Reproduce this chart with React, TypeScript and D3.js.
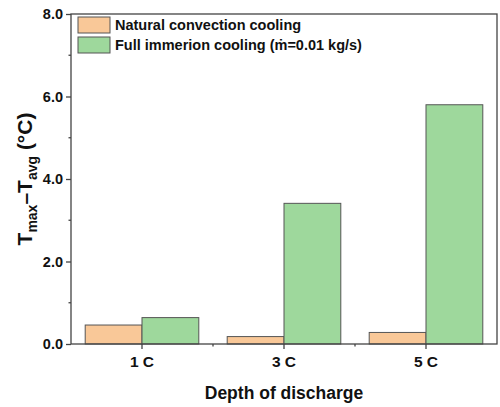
import React, { useRef, useEffect } from "react";
import * as d3 from "d3";

const categories = ["1 C", "3 C", "5 C"];
const naturalValues = [0.46, 0.18, 0.28];
const immersionValues = [0.64, 3.41, 5.8];
const seriesNames = ["Natural convection cooling", "Full immerion cooling (ṁ=0.01 kg/s)"];
const seriesColors = ["#F9C898", "#9ED89C"];
const yTicks = [0, 2, 4, 6, 8];
const yMinorTicks = [1, 3, 5, 7];

const App = () => {
  const svgRef = useRef<SVGSVGElement>(null);

  useEffect(() => {
    const svg = d3.select(svgRef.current);
    svg.selectAll("*").remove();

    const width = 500;
    const height = 407;
    const margin = { top: 14, right: 3, bottom: 63, left: 71 };
    const font = "Arial, 'Liberation Sans', sans-serif";

    const x = d3
      .scaleBand()
      .domain(categories)
      .range([margin.left, width - margin.right]);

    const x1 = d3
      .scaleBand()
      .domain(["0", "1"])
      .range([0, x.bandwidth()])
      .paddingOuter(0.25);

    const y = d3
      .scaleLinear()
      .domain([0, 8])
      .range([height - margin.bottom, margin.top]);

    const series = [naturalValues, immersionValues];

    // bars
    series.forEach((vals, si) => {
      svg
        .append("g")
        .selectAll("rect")
        .data(vals)
        .enter()
        .append("rect")
        .attr("x", (d, i) => x(categories[i])! + x1(String(si))!)
        .attr("y", (d) => y(d))
        .attr("width", x1.bandwidth())
        .attr("height", (d) => y(0) - y(d))
        .attr("fill", seriesColors[si])
        .attr("stroke", "#555")
        .attr("stroke-width", 1);
    });

    // frame
    svg
      .append("rect")
      .attr("x", margin.left)
      .attr("y", margin.top)
      .attr("width", width - margin.left - margin.right)
      .attr("height", height - margin.top - margin.bottom)
      .attr("fill", "none")
      .attr("stroke", "#444")
      .attr("stroke-width", 1.3);

    // y axis
    const yAxis = svg
      .append("g")
      .attr("transform", `translate(${margin.left},0)`)
      .call(
        d3
          .axisLeft(y)
          .tickValues(yTicks)
          .tickSize(5)
          .tickFormat(d3.format(".1f"))
      );
    yAxis.select(".domain").remove();
    yAxis.selectAll("line").attr("stroke", "#444").attr("stroke-width", 1.3);
    yAxis
      .selectAll("text")
      .attr("font-family", font)
      .attr("font-weight", "bold")
      .attr("font-size", 14.5)
      .attr("fill", "#111");

    svg
      .append("g")
      .selectAll("line")
      .data(yMinorTicks)
      .enter()
      .append("line")
      .attr("x1", margin.left - 2.5)
      .attr("x2", margin.left)
      .attr("y1", (d) => y(d))
      .attr("y2", (d) => y(d))
      .attr("stroke", "#444")
      .attr("stroke-width", 1.3);

    // x axis
    const xAxis = svg
      .append("g")
      .attr("transform", `translate(0,${height - margin.bottom})`)
      .call(d3.axisBottom(x).tickSize(5).tickPadding(7));
    xAxis.select(".domain").remove();
    xAxis.selectAll("line").attr("stroke", "#444").attr("stroke-width", 1.3);
    xAxis
      .selectAll("text")
      .attr("font-family", font)
      .attr("font-weight", "bold")
      .attr("font-size", 15.5)
      .attr("fill", "#111");

    svg
      .append("g")
      .selectAll("line")
      .data(categories.slice(1))
      .enter()
      .append("line")
      .attr("x1", (d) => x(d)!)
      .attr("x2", (d) => x(d)!)
      .attr("y1", height - margin.bottom)
      .attr("y2", height - margin.bottom + 2.5)
      .attr("stroke", "#444")
      .attr("stroke-width", 1.3);

    // axis titles
    svg
      .append("text")
      .attr("x", (margin.left + width - margin.right) / 2)
      .attr("y", 399)
      .attr("text-anchor", "middle")
      .attr("font-family", font)
      .attr("font-weight", "bold")
      .attr("font-size", 17.5)
      .attr("fill", "#111")
      .text("Depth of discharge");

    const yt = svg
      .append("text")
      .attr("transform", `translate(32,${(margin.top + height - margin.bottom) / 2}) rotate(-90)`)
      .attr("text-anchor", "middle")
      .attr("font-family", font)
      .attr("font-weight", "bold")
      .attr("font-size", 21)
      .attr("fill", "#111");
    yt.append("tspan").text("T");
    yt.append("tspan").attr("font-size", 14).attr("dy", 5).text("max");
    yt.append("tspan").attr("dy", -5).text("–T");
    yt.append("tspan").attr("font-size", 14).attr("dy", 5).text("avg");
    yt.append("tspan").attr("dy", -5).text(" (°C)");

    // legend
    const legend = svg.append("g");
    seriesNames.forEach((name, i) => {
      const ly = 17 + i * 20;
      legend
        .append("rect")
        .attr("x", 78)
        .attr("y", ly)
        .attr("width", 32)
        .attr("height", 16)
        .attr("fill", seriesColors[i])
        .attr("stroke", "#555")
        .attr("stroke-width", 1);
      legend
        .append("text")
        .attr("x", 115)
        .attr("y", ly + 13)
        .attr("font-family", font)
        .attr("font-weight", "bold")
        .attr("font-size", 14.5)
        .attr("fill", "#111")
        .text(name);
    });
  }, []);

  return (
    <svg
      ref={svgRef}
      width={500}
      height={407}
      style={{ position: "absolute", left: 0, top: 0, background: "#fff" }}
    ></svg>
  );
};

export default App;
